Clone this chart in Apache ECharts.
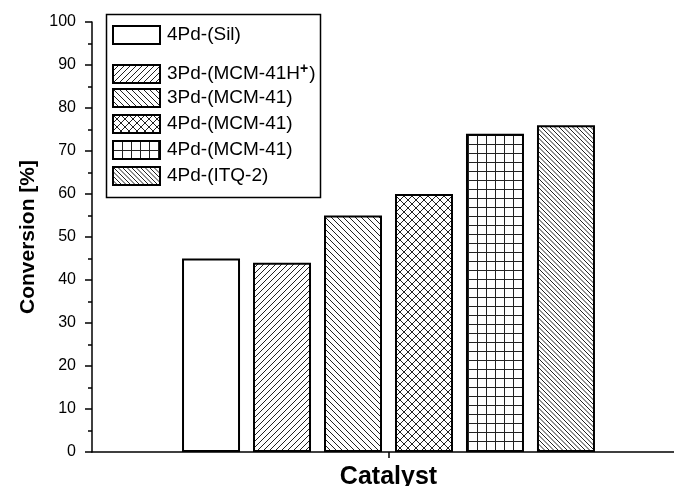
<!DOCTYPE html>
<html>
<head>
<meta charset="utf-8">
<script src="https://cdn.jsdelivr.net/npm/echarts@6/dist/echarts.min.js"></script>
<style>
  html, body { margin: 0; padding: 0; background: #fff; }
  #chart { width: 674px; height: 486px; }
</style>
</head>
<body>
<div id="chart"></div>
<script>
// Catalyst conversion data
const catalysts = ['4Pd-(Sil)', '3Pd-(MCM-41H+)', '3Pd-(MCM-41)', '4Pd-(MCM-41)', '4Pd-(MCM-41)', '4Pd-(ITQ-2)'];
const conversion = [45, 44, 55, 60, 74, 76];
const categoryLabel = ['Catalyst'];
const yMin = 0, yMax = 100, yStep = 10;

const FONT = '"Liberation Sans", Arial, sans-serif';

// Build a repeating hatch tile on a small canvas
function tile(size, draw) {
  const c = document.createElement('canvas');
  c.width = c.height = size;
  const g = c.getContext('2d');
  g.fillStyle = '#fff';
  g.fillRect(0, 0, size, size);
  g.strokeStyle = '#222';
  g.lineWidth = 1;
  draw(g, size);
  return { image: c, repeat: 'repeat' };
}
function forward(g, s, p) {      // "/" lines
  g.beginPath();
  for (let k = -s; k <= 2 * s; k += p) { g.moveTo(k, s); g.lineTo(k + s, 0); }
  g.stroke();
}
function backward(g, s, p) {     // "\" lines
  g.beginPath();
  for (let k = -s; k <= 2 * s; k += p) { g.moveTo(k, 0); g.lineTo(k + s, s); }
  g.stroke();
}
function squares(g, s, p) {      // horizontal + vertical grid
  g.beginPath();
  for (let k = 0; k < s; k += p) {
    g.moveTo(k + 0.5, 0); g.lineTo(k + 0.5, s);
    g.moveTo(0, k + 0.5); g.lineTo(s, k + 0.5);
  }
  g.stroke();
}

const fills = [
  '#ffffff',
  tile(12, (g, s) => forward(g, s, 6)),
  tile(12, (g, s) => backward(g, s, 6)),
  tile(16, (g, s) => { forward(g, s, 8); backward(g, s, 8); }),
  tile(9, (g, s) => squares(g, s, 9)),
  tile(9, (g, s) => backward(g, s, 4.5))
];

const seriesNames = catalysts.map((c, i) => c + '#' + i);

function legendText(name) {
  const label = name.split('#')[0];
  return label.replace('+)', '{sup|+}{close|)}');
}

const legendCommon = {
  orient: 'vertical',
  left: 112,
  padding: 0,
  itemWidth: 47,
  itemHeight: 18,
  icon: 'rect',
  selectedMode: false,
  itemStyle: { borderColor: '#000', borderWidth: 2 },
  formatter: legendText,
  textStyle: {
    fontFamily: FONT,
    fontSize: 19,
    color: '#000',
    padding: [0, 0, 0, 2],
    rich: {
      sup: { fontFamily: FONT, fontSize: 14, fontWeight: 'bold', color: '#000', padding: [0, 0, 10, 0] },
      close: { fontFamily: FONT, fontSize: 19, color: '#000', padding: [0, 0, 0, 1] }
    }
  }
};

const chart = echarts.init(document.getElementById('chart'), null, { renderer: 'canvas' });

chart.setOption({
  animation: false,
  backgroundColor: '#fff',
  // the plot area runs a little past the right edge of the page
  grid: { left: 92, top: 22, width: 593, height: 430, outerBoundsMode: 'none', containLabel: false },
  legend: seriesNames.map((n, i) => Object.assign({}, legendCommon, {
    data: [n],
    top: i === 0 ? 25 : 36 + i * 26
  })),
  graphic: [{
    type: 'rect',
    left: 104, top: 12,
    shape: { width: 214, height: 183 },
    style: { fill: 'none', stroke: '#000', lineWidth: 1.5 },
    z: 10
  }],
  xAxis: {
    type: 'category',
    data: categoryLabel,
    name: categoryLabel[0],
    nameLocation: 'middle',
    nameGap: 13,
    nameTextStyle: { fontFamily: FONT, fontSize: 25, fontWeight: 'bold', color: '#000' },
    axisLine: { lineStyle: { color: '#000', width: 1.5 } },
    axisTick: { show: true, alignWithLabel: true, length: 6, lineStyle: { color: '#000', width: 1.5 } },
    axisLabel: { show: false },
    splitLine: { show: false }
  },
  yAxis: {
    type: 'value',
    min: yMin, max: yMax, interval: yStep,
    name: 'Conversion [%]',
    nameLocation: 'middle',
    nameGap: 53,
    nameTextStyle: { fontFamily: FONT, fontSize: 21, fontWeight: 'bold', color: '#000' },
    axisLine: { show: true, lineStyle: { color: '#000', width: 1.5 } },
    axisTick: { show: true, length: 7, lineStyle: { color: '#000', width: 1.5 } },
    minorTick: { show: true, splitNumber: 2, length: 4, lineStyle: { color: '#000', width: 1.5 } },
    axisLabel: { fontFamily: FONT, fontSize: 16, color: '#000', margin: 16 },
    splitLine: { show: false }
  },
  series: seriesNames.map((n, i) => ({
    type: 'bar',
    name: n,
    data: [conversion[i]],
    barWidth: 58,
    barGap: '22.4%',
    itemStyle: { color: fills[i], borderColor: '#000', borderWidth: 2 }
  }))
});
</script>
</body>
</html>
